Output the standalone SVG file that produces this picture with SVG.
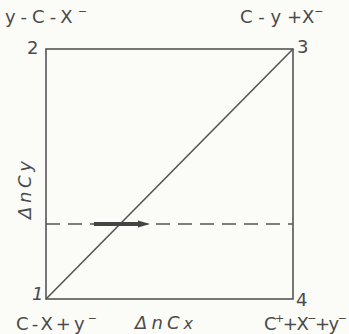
<svg xmlns="http://www.w3.org/2000/svg" width="349" height="334" viewBox="0 0 349 334">
<style>
text{font-family:"DejaVu Sans","Liberation Sans",sans-serif;fill:#4a4a4a;font-size:18px}
.it{font-style:italic}
.ln{stroke:#555;fill:none;stroke-width:1.6}
</style>
<rect width="349" height="334" fill="#fbfbf7"/>
<g id="connectors">
<rect class="ln" x="46" y="49" width="247" height="250"/>
<line class="ln" x1="46" y1="299" x2="293" y2="49"/>
<line class="ln" x1="46" y1="224" x2="293" y2="224" stroke-dasharray="14,8"/>
<line x1="94" y1="224" x2="140" y2="224" stroke="#444" stroke-width="4"/>
<polygon points="138,220.5 150,224 138,227.5" fill="#444"/>
</g>
<g id="n2"><text x="5" y="23" textLength="82" lengthAdjust="spacing">y-C-X<tspan dy="-8" font-size="11">−</tspan></text><text x="27" y="54">2</text></g>
<g id="n3"><text x="240" y="23" font-size="16.5">C - y +X<tspan dy="-8" font-size="11">−</tspan></text><text x="297" y="53">3</text></g>
<g id="n1"><text x="32" y="300" class="it" font-size="16">1</text><text x="16" y="330" textLength="81" lengthAdjust="spacing">C-X+y<tspan dy="-8" font-size="11">−</tspan></text></g>
<g id="n4"><text x="296" y="306" font-size="16">4</text><text x="264" y="330" textLength="83" lengthAdjust="spacing">C<tspan dy="-8" font-size="11">+</tspan><tspan dy="8">+X</tspan><tspan dy="-8" font-size="11">−</tspan><tspan dy="8">+y</tspan><tspan dy="-8" font-size="11">−</tspan></text></g>
<g id="axes">
<text x="135" y="329" class="it" font-size="19" textLength="58" lengthAdjust="spacing">ΔnC<tspan font-size="16">x</tspan></text>
<text transform="translate(31,219) rotate(-90)" class="it" font-size="19" textLength="58" lengthAdjust="spacing">ΔnCy</text>
</g>
</svg>
